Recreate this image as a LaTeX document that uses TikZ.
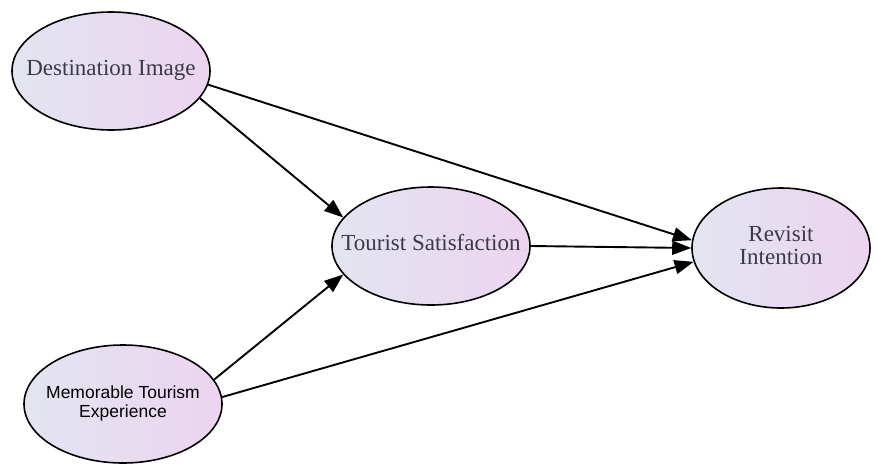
\documentclass[tikz,border=0pt]{standalone}
\usepackage{fontspec}
\setmainfont{Liberation Serif}
\setsansfont{Liberation Sans}
\usetikzlibrary{shapes.geometric,arrows.meta}
\definecolor{leftc}{HTML}{E2E5F0}
\definecolor{rightc}{HTML}{ECD4F0}
\definecolor{txt}{HTML}{3A3A48}
\newcommand\ztext[1]{\makebox[0pt][c]{\begin{tabular}{@{}c@{}}#1\end{tabular}}}
\tikzset{
  construct/.style={ellipse, draw=black, line width=1.6pt, left color=leftc, right color=rightc,
    minimum width=198pt, minimum height=118pt, inner sep=0pt,
    text=txt, font=\fontsize{23}{23}\selectfont},
  link/.style={line width=1.9pt, -{Triangle[length=19pt,width=14pt]}}
}
\begin{document}
\begin{tikzpicture}[x=1pt,y=-1pt]
\useasboundingbox (0,0) rectangle (878,464);
\node[construct] (di) at (111,71) {\ztext{Destination Image}};
\node[construct] (ts) at (431,246) {\ztext{Tourist Satisfaction}};
\node[construct, minimum width=178pt, minimum height=120pt] (ri) at (781,248) {\ztext{Revisit\\Intention}};
\node[construct, text=black, font=\sffamily\fontsize{17.5}{19}\selectfont] (mte) at (123,404) {\ztext{Memorable Tourism\\Experience}};
\draw[link] (di.-17) -- (ts.162);
\draw[link] (di.-8) -- (ri.175);
\draw[link] (ts.0) -- (ri.180);
\draw[link] (mte.15) -- (ts.198);
\draw[link] (mte.4) -- (ri.189);
\end{tikzpicture}
\end{document}
